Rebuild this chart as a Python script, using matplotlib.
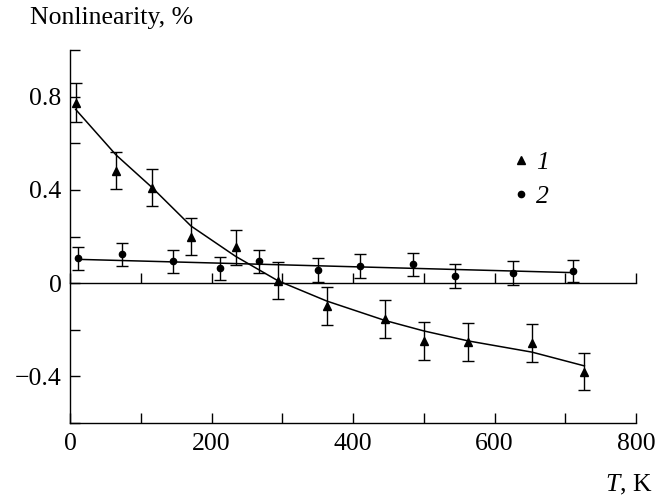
import matplotlib
matplotlib.use("Agg")
import matplotlib.pyplot as plt
from matplotlib.lines import Line2D

plt.rcParams['font.family'] = ['Liberation Serif', 'DejaVu Serif']
plt.rcParams['mathtext.fontset'] = 'custom'
plt.rcParams['mathtext.rm'] = 'Liberation Serif'
plt.rcParams['mathtext.it'] = 'Liberation Serif:italic'

# Series 1 (triangles)
T1 = [8, 65, 116, 171, 234, 294, 363, 445, 500, 563, 653, 727]
V1 = [0.774, 0.483, 0.41, 0.20, 0.154, 0.01, -0.098, -0.154, -0.248, -0.252, -0.257, -0.38]
E1 = [0.083, 0.08, 0.08, 0.08, 0.075, 0.08, 0.08, 0.08, 0.08, 0.08, 0.08, 0.08]
# fitted curve 1
C1_T = [8, 65, 116, 171, 234, 294, 363, 445, 500, 563, 653, 727]
C1_V = [0.745, 0.55, 0.41, 0.245, 0.115, 0.01, -0.077, -0.16, -0.205, -0.248, -0.296, -0.355]

# Series 2 (circles)
T2 = [11, 73, 146, 212, 267, 350, 410, 485, 544, 626, 711]
V2 = [0.107, 0.124, 0.094, 0.064, 0.094, 0.056, 0.073, 0.081, 0.03, 0.043, 0.051]
E2 = [0.05, 0.05, 0.05, 0.05, 0.05, 0.05, 0.05, 0.05, 0.05, 0.05, 0.047]
# fitted line 2
C2_T = [11, 711]
C2_V = [0.102, 0.045]

FS = 18.5

fig = plt.figure(figsize=(6.63, 4.98), dpi=100)
ax = fig.add_axes([0.1056, 0.1506, 0.8537, 0.749])

lw = 1.1
ax.plot(C1_T, C1_V, color='black', lw=lw)
ax.plot(C2_T, C2_V, color='black', lw=lw)
ax.errorbar(T1, V1, yerr=E1, fmt='^', color='black', ms=5.5, capsize=4.5,
            elinewidth=1.0, capthick=1.0)
ax.errorbar(T2, V2, yerr=E2, fmt='o', color='black', ms=4.5, capsize=4.5,
            elinewidth=1.0, capthick=1.0)

ax.set_xlim(0, 800)
ax.set_ylim(-0.6, 1.0)
ax.set_xticks(range(0, 801, 100))
ax.set_xticklabels(['0', '', '200', '', '400', '', '600', '', '800'])
ax.set_yticks([-0.6, -0.4, -0.2, 0, 0.2, 0.4, 0.6, 0.8, 1.0])
ax.set_yticklabels(['', '\u22120.4', '', '0', '', '0.4', '', '0.8', ''])
ax.tick_params(direction='in', length=7, width=1.0, labelsize=FS)
ax.tick_params(axis='x', pad=7)
ax.tick_params(axis='y', pad=6)
for s in ['top', 'right']:
    ax.spines[s].set_visible(False)
for s in ['left', 'bottom']:
    ax.spines[s].set_linewidth(1.0)

sec = ax.secondary_xaxis(0.375)
sec.set_xticks(range(0, 801, 100))
sec.tick_params(direction='in', length=7, width=1.0, labelbottom=False, labeltop=False)
sec.spines['bottom'].set_linewidth(1.0)

handles = [Line2D([], [], marker='^', color='black', ls='none', ms=5.5),
           Line2D([], [], marker='o', color='black', ls='none', ms=4.5)]
ax.legend(handles, ['1', '2'], frameon=False, loc='center left',
          bbox_to_anchor=(0.742, 0.652), handlelength=0.6, handletextpad=0.3,
          labelspacing=0.42, prop={'family': 'Liberation Serif', 'style': 'italic', 'size': FS})

fig.text(0.045, 0.964, 'Nonlinearity, %', fontsize=FS, ha='left', va='center')
fig.text(0.984, 0.013, '$\\it{T}$, K', fontsize=FS, ha='right', va='baseline')

fig.savefig('out.png', dpi=100)
